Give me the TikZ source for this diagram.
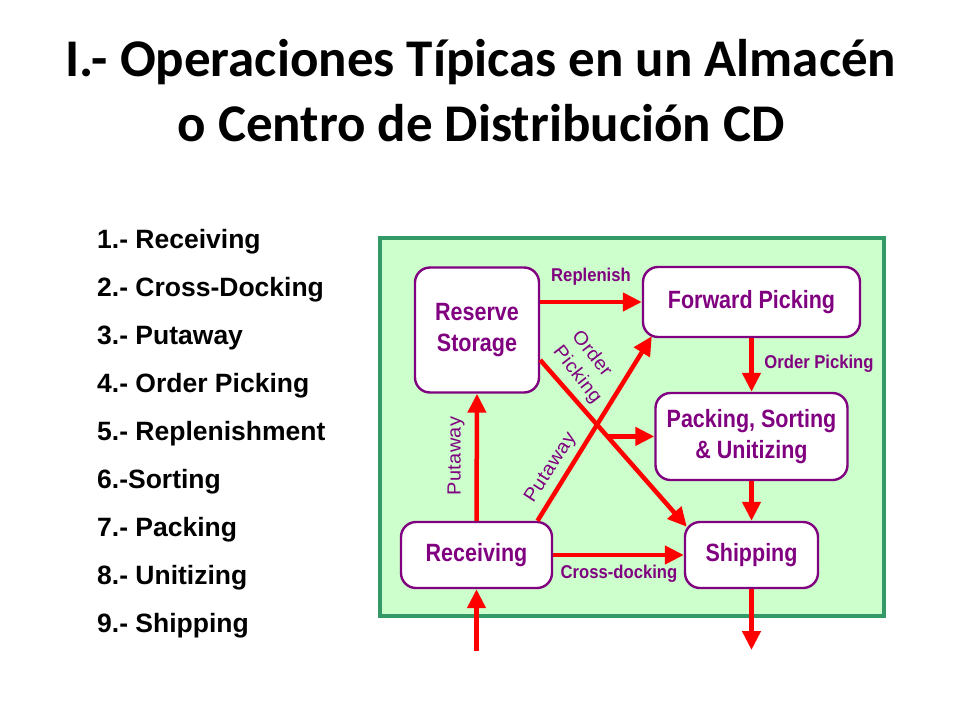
\documentclass[tikz,border=0pt]{standalone}
\usepackage{fontspec}
\setmainfont{Liberation Sans}
\newfontfamily\titlefont{Carlito}
\newfontfamily\dfont[FakeStretch=0.86]{Liberation Sans}
\newfontfamily\sfontx[FakeStretch=0.9]{Liberation Sans}
\newfontfamily\rfont[FakeStretch=1.05,LetterSpace=2]{Liberation Sans}
\usetikzlibrary{arrows.meta,calc}
\definecolor{arrred}{RGB}{255,0,0}
\definecolor{purp}{RGB}{128,0,128}
\definecolor{bgreen}{RGB}{204,255,204}
\definecolor{dgreen}{RGB}{51,153,102}
\tikzset{
  x=1pt,y=-1pt,
  box/.style={draw=purp,line width=2.4pt,fill=white,rounded corners=15pt,
    inner sep=0pt,text=purp,font=\dfont\bfseries\fontsize{25}{31}\selectfont,align=center},
  flow/.style={draw=arrred,line width=4.5pt,-{Triangle[length=19pt,width=18pt]}},
  lab/.style={text=purp,font=\sfontx\bfseries\fontsize{18.5}{20}\selectfont,inner sep=0pt},
  rlab/.style={text=purp,font=\rfont\fontsize{19}{20}\selectfont,inner sep=0pt},
  item/.style={anchor=base west,inner sep=0pt,font=\bfseries\fontsize{26.5}{30}\selectfont},
  ttl/.style={anchor=base,inner sep=0pt,font=\titlefont\bfseries\fontsize{53}{60}\selectfont}
}
\begin{document}
\begin{tikzpicture}
\useasboundingbox (0,0) rectangle (960,720);
\fill[white] (0,0) rectangle (960,720);
% title
\node[ttl] (t1) at (481,76) {I.- Operaciones Típicas en un Almacén};
\node[ttl] (t2) at (481,141) {o Centro de Distribución CD};
% list
\node[item] (l1) at (97,248) {1.- Receiving};
\node[item] (l2) at (97,296) {2.- Cross-Docking};
\node[item] (l3) at (97,344) {3.- Putaway};
\node[item] (l4) at (97,392) {4.- Order Picking};
\node[item] (l5) at (97,440) {5.- Replenishment};
\node[item] (l6) at (97,488) {6.-Sorting};
\node[item] (l7) at (97,536) {7.- Packing};
\node[item] (l8) at (97,584) {8.- Unitizing};
\node[item] (l9) at (97,632) {9.- Shipping};
% panel
\node[draw=dgreen,fill=bgreen,line width=4pt,minimum width=504pt,minimum height=378pt,inner sep=0pt] (panel) at (632,427) {};
% boxes
\node[box,minimum width=124pt,minimum height=125pt] (res) at (477,330) {Reserve\\Storage};
\node[box,minimum width=217pt,minimum height=70pt] (fwd) at (751.5,302) {Forward Picking};
\node[box,minimum width=192pt,minimum height=87pt] (pack) at (751.5,436.5) {Packing, Sorting\\\& Unitizing};
\node[box,minimum width=151pt,minimum height=66pt] (rec) at (476.5,555) {Receiving};
\node[box,minimum width=133pt,minimum height=66pt] (ship) at (751.5,555) {Shipping};
% free ends
\coordinate (inS) at (476.5,651);
\coordinate (outE) at (751.5,650);
% arrows
\draw[flow] (res.east |- fwd.west) -- (fwd.west);
\draw[flow] (fwd.south) -- (pack.north);
\draw[flow] (pack.south) -- (ship.north);
\draw[flow] (rec.east) -- (ship.west);
\draw[flow] (rec.north) -- (res.south);
\draw[flow] ([xshift=61pt]rec.north) -- ([xshift=10pt,yshift=2pt]fwd.south west);
\draw[flow] ([yshift=-30pt]res.east) -- ([xshift=3pt,yshift=-6pt]ship.north west);
\path ([yshift=-30pt]res.east) -- ([xshift=3pt,yshift=-6pt]ship.north west) coordinate[pos=0.458] (cx);
\draw[flow] (cx) -- (cx -| pack.west);
\draw[flow] (inS) -- (rec.south);
\draw[flow] (ship.south) -- (outE);
% labels
\node[lab] (lrep) at (591,277) {Replenish};
\node[lab] (lop) at (819,364) {Order Picking};
\node[lab] (lcd) at (619,574) {Cross-docking};
\node[rlab,rotate=90] (lput1) at (456,456) {Putaway};
\node[rlab,rotate=57] (lput2) at (551,468) {Putaway};
\node[rlab,rotate=-52] (lord) at (593,353) {Order};
\node[rlab,rotate=-52] (lpick) at (577,375) {Picking};
\end{tikzpicture}
\end{document}
